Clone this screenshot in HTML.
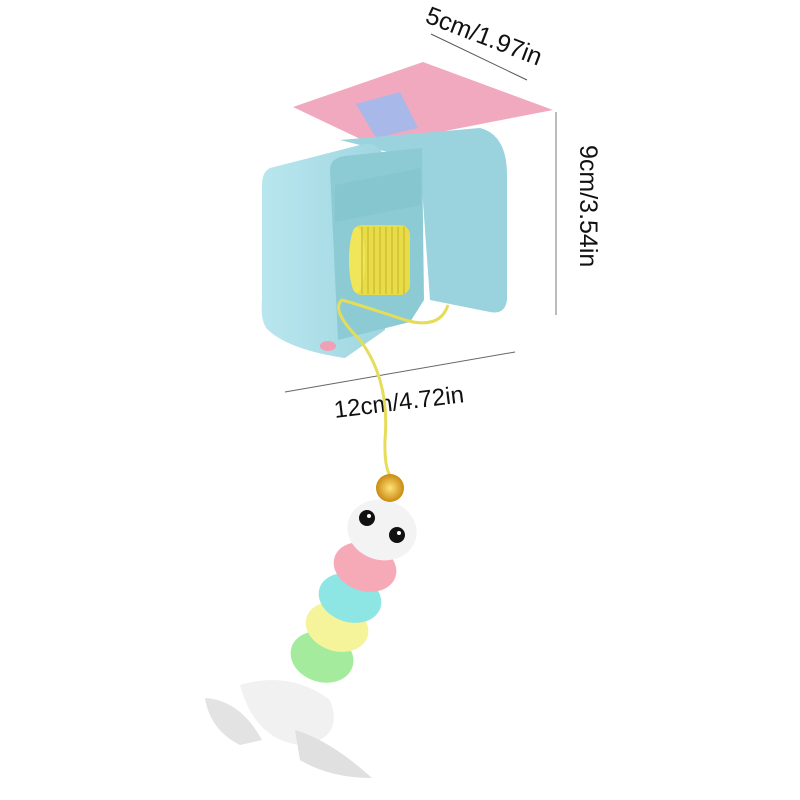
<!DOCTYPE html>
<html><head><style>
html,body{margin:0;padding:0;background:#fff;}
svg{display:block}
text{font-family:"Liberation Sans",sans-serif;fill:#111;}
</style></head><body>
<svg width="800" height="800" viewBox="0 0 800 800" xmlns="http://www.w3.org/2000/svg">
<defs>
<linearGradient id="bl" x1="0" y1="0" x2="1" y2="0"><stop offset="0" stop-color="#b9e6ee"/><stop offset="1" stop-color="#9fd6e0"/></linearGradient>
<radialGradient id="gold"><stop offset="0" stop-color="#ffe27a"/><stop offset="1" stop-color="#c98a10"/></radialGradient>
</defs>
<!-- top dim -->
<line x1="431" y1="34" x2="527" y2="80" stroke="#555" stroke-width="1"/>
<text x="0" y="0" font-size="25" transform="translate(424,22) rotate(21)">5cm/1.97in</text>
<!-- plate -->
<polygon points="293,107 423,62 553,110 373,145" fill="#f1a9bf"/>
<polygon points="356,104 400,92 418,128 376,138" fill="#a8b8e8"/>
<!-- right dim -->
<line x1="556" y1="112" x2="556" y2="315" stroke="#777" stroke-width="1"/>
<text x="0" y="0" font-size="25" transform="translate(580,145) rotate(90)">9cm/3.54in</text>
<!-- cube right arm -->
<path d="M340,140 L480,128 Q507,135 507,175 L507,300 Q505,315 490,312 L430,300 L420,160 Z" fill="#9ad3de"/>
<!-- cube left block -->
<path d="M270,168 L360,145 Q380,140 385,160 L385,330 L345,358 Q290,350 268,330 Q260,322 262,300 L262,185 Q262,172 270,168 Z" fill="url(#bl)"/>
<!-- cavity -->
<path d="M330,170 Q330,158 345,156 L422,148 L424,300 L410,322 L338,340 Z" fill="#8ccbd4"/>
<path d="M335,185 L421,168 L421,205 L335,222 Z" fill="#7fc1ca" opacity=".5"/>
<!-- coil -->
<rect x="352" y="225" width="58" height="70" rx="10" fill="#e8dc48"/>
<ellipse cx="357" cy="260" rx="8" ry="33" fill="#f1e65a"/>
<g stroke="#c9b92f" stroke-width="1.2">
<line x1="362" y1="227" x2="362" y2="294"/><line x1="368" y1="227" x2="368" y2="294"/><line x1="374" y1="227" x2="374" y2="294"/><line x1="380" y1="227" x2="380" y2="294"/><line x1="386" y1="227" x2="386" y2="294"/><line x1="392" y1="227" x2="392" y2="294"/><line x1="398" y1="227" x2="398" y2="294"/><line x1="404" y1="227" x2="404" y2="294"/>
</g>
<ellipse cx="328" cy="346" rx="8" ry="5" fill="#f0a0b4"/>
<!-- bottom dim -->
<line x1="285" y1="392" x2="515" y2="352" stroke="#666" stroke-width="1"/>
<text x="0" y="0" font-size="24" transform="translate(335,418) rotate(-7)">12cm/4.72in</text>
<!-- string -->
<path d="M448,305 Q440,330 405,320 Q360,305 342,300 Q330,310 360,340 Q390,380 385,440 Q384,470 392,478" fill="none" stroke="#e5dd5a" stroke-width="3"/>
<!-- feathers -->
<path d="M240,685 Q290,670 330,700 Q345,740 300,745 Q255,740 240,685 Z" fill="#f1f1f1"/>
<path d="M205,698 Q240,700 262,740 L240,745 Q210,730 205,698 Z" fill="#e3e3e3"/>
<path d="M295,730 Q330,740 372,778 Q330,778 300,760 Z" fill="#e0e0e0"/>
<!-- caterpillar -->
<ellipse cx="322" cy="657" rx="32" ry="25" transform="rotate(18 322 657)" fill="#a4eb9e"/>
<ellipse cx="337" cy="627" rx="32" ry="24" transform="rotate(18 337 627)" fill="#f5f49a"/>
<ellipse cx="350" cy="598" rx="32" ry="24" transform="rotate(18 350 598)" fill="#8ee6e4"/>
<ellipse cx="365" cy="567" rx="32" ry="24" transform="rotate(18 365 567)" fill="#f6a9b6"/>
<ellipse cx="382" cy="530" rx="35" ry="30" transform="rotate(15 382 530)" fill="#f3f3f3"/>
<circle cx="367" cy="518" r="8" fill="#111"/><circle cx="397" cy="535" r="8" fill="#111"/>
<circle cx="369" cy="516" r="2" fill="#fff"/><circle cx="399" cy="533" r="2" fill="#fff"/>
<circle cx="390" cy="488" r="14" fill="url(#gold)"/>
</svg>
</body></html>
